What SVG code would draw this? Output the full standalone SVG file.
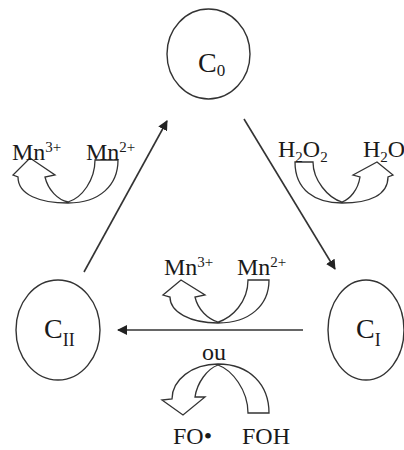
<svg xmlns="http://www.w3.org/2000/svg" width="404" height="450" viewBox="0 0 404 450">
<defs>
<style>
.node{fill:#fff;stroke:#333;stroke-width:1.4}
.lbl{font-family:"Liberation Serif","Times New Roman",serif;fill:#1a1a1a;font-size:24px}
.big{font-size:28px}
.sub{font-size:15px}
.conn{stroke:#333;stroke-width:1.6;fill:none}
.band{fill:#fff;stroke:#333;stroke-width:1.3;stroke-linejoin:miter}
</style>
<marker id="ah" viewBox="0 0 10 10" refX="9" refY="5" markerWidth="10" markerHeight="10" markerUnits="userSpaceOnUse" orient="auto">
<path d="M0,0 L10,5 L0,10 Z" fill="#222"/>
</marker>
</defs>
<rect width="404" height="450" fill="#fff"/>
<g id="connectors">
<line class="conn" x1="84" y1="272" x2="167" y2="121" marker-end="url(#ah)"/>
<line class="conn" x1="244" y1="119" x2="335" y2="269" marker-end="url(#ah)"/>
<line class="conn" x1="303" y1="330" x2="118" y2="330" marker-end="url(#ah)"/>
</g>
<g id="node-C0">
<ellipse class="node" cx="208.5" cy="54" rx="41.5" ry="45"/>
<text class="lbl big" x="198" y="72">C<tspan dy="4" font-size="17">0</tspan></text>
</g>
<g id="node-CII">
<ellipse class="node" cx="58" cy="330" rx="42" ry="50"/>
<text class="lbl big" x="44" y="338">C<tspan dy="8" font-size="18">II</tspan></text>
</g>
<g id="node-CI">
<ellipse class="node" cx="366" cy="330" rx="38" ry="50"/>
<text class="lbl big" x="356" y="338">C<tspan dy="8" font-size="18">I</tspan></text>
</g>
<g id="mn-top-left">
<path class="band" d="M95,160 L118,160 C118,185 100,203 68,203 C40,203 18,195 18,177 L13,175 L30,158 L55,175 L45,177 C48,190 58,200 68,202 C82,198 95,180 95,160 Z"/>
<text class="lbl" x="12" y="160">Mn<tspan class="sub" dy="-8">3+</tspan></text>
<text class="lbl" x="86" y="160">Mn<tspan class="sub" dy="-8">2+</tspan></text>
</g>
<g id="h2o2-top-right">
<path class="band" d="M313,162 L295,162 C295,190 315,203 342,203 C370,203 388,195 388,177 L393,175 L377,162 L353,175 L360,177 C358,190 350,199 342,202 C328,198 313,180 313,162 Z"/>
<text class="lbl" x="278" y="157">H<tspan class="sub" dy="5">2</tspan><tspan dy="-5">O</tspan><tspan class="sub" dy="5">2</tspan></text>
<text class="lbl" x="363" y="157">H<tspan class="sub" dy="5">2</tspan><tspan dy="-5">O</tspan></text>
</g>
<g id="mn-middle">
<path class="band" d="M248,280 L269,280 C269,305 250,323 218,323 C190,323 170,312 170,297 L163,295 L181,280 L205,295 L195,297 C198,310 208,319 218,322 C232,318 248,302 248,280 Z"/>
<text class="lbl" x="164" y="275">Mn<tspan class="sub" dy="-8">3+</tspan></text>
<text class="lbl" x="237" y="275">Mn<tspan class="sub" dy="-8">2+</tspan></text>
</g>
<g id="fo-bottom">
<path class="band" d="M248,413 L269,413 C269,385 250,364 218,364 C192,364 172,380 172,399 L162,400 L183,415 L205,397 L195,397 C197,383 207,369 218,365 C232,370 248,390 248,413 Z"/>
<text class="lbl" x="202" y="360">ou</text>
<text class="lbl" x="173" y="444">FO•</text>
<text class="lbl" x="242" y="444">FOH</text>
</g>
</svg>
